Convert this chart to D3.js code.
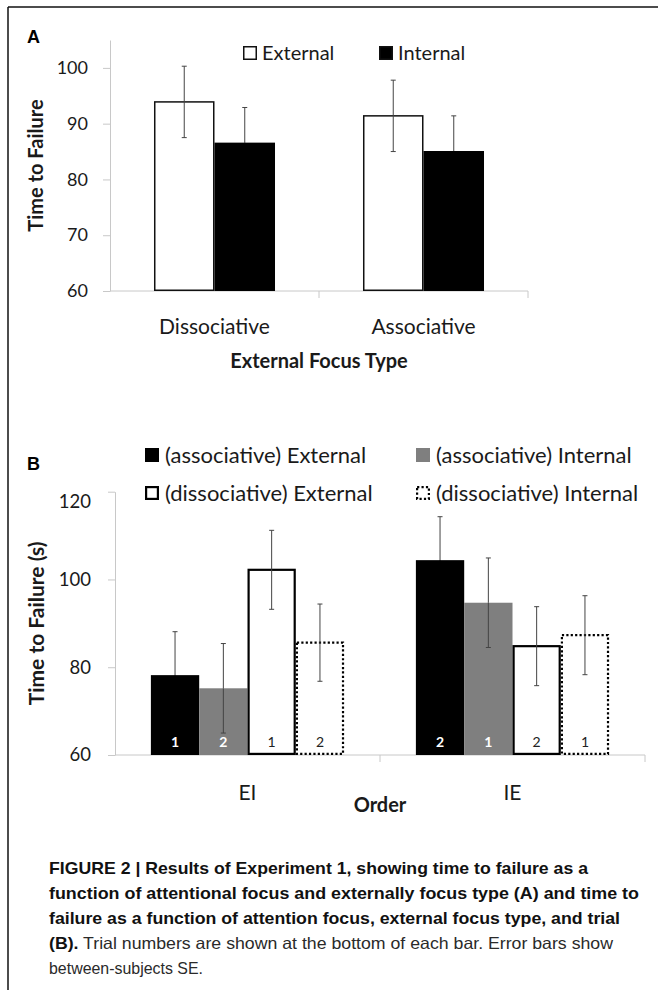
<!DOCTYPE html>
<html>
<head>
<meta charset="utf-8">
<script src="https://cdn.jsdelivr.net/npm/d3@7"></script>
<style>
    body { margin: 0; background: #fff; }
    svg { display: block; }
    .chartText { font-family: Lato, "Open Sans", sans-serif; fill: #1a1a1a; }
    .panelLetter { font-family: "Liberation Sans", Arial, sans-serif; font-weight: bold; font-size: 18px; fill: #000; }
    .caption { font-family: "Liberation Sans", Arial, sans-serif; font-size: 16.5px; fill: #111; }
</style>
</head>
<body>
<script>
(function(){

    // panel A
    var catsA = ["Dissociative", "Associative"];
    var seriesA = ["External", "Internal"];
    var externalA = [93.9, 91.4];
    var externalSeA = [6.4, 6.4];
    var internalA = [86.6, 85.1];
    var internalSeA = [6.3, 6.3];
    var ticksA = [60, 70, 80, 90, 100];

    // panel B
    var catsB = ["EI", "IE"];
    var seriesB = ["(associative) External", "(associative) Internal", "(dissociative) External", "(dissociative) Internal"];
    var assocExtB = [78.2, 104.4];
    var assocExtSeB = [9.9, 9.9];
    var assocIntB = [75.2, 94.7];
    var assocIntSeB = [10.2, 10.2];
    var dissExtB = [102.2, 84.8];
    var dissExtSeB = [9.0, 9.0];
    var dissIntB = [85.6, 87.3];
    var dissIntSeB = [8.8, 9.0];
    var trialsB = [[1, 2], [2, 1], [1, 2], [2, 1]];
    var ticksB = [60, 80, 100, 120];

    var captionLines = [
        [["FIGURE 2 | Results of Experiment 1, showing time to failure as a", true]],
        [["function of attentional focus and externally focus type (A) and time to", true]],
        [["failure as a function of attention focus, external focus type, and trial", true]],
        [["(B).", true], [" Trial numbers are shown at the bottom of each bar. Error bars show", false]],
        [["between-subjects SE.", false]]
    ];
    var captionWidths = [539, 590, 571, 564, 154];

    var width = 658, height = 990;

    var svg = d3.select("body")
        .append("svg")
        .attr("width", width)
        .attr("height", height);

    // frame (top and left edges)
    svg.append("line")
        .attr("x1", 8).attr("y1", 7).attr("x2", width).attr("y2", 7)
        .attr("stroke", "#111").attr("stroke-width", 1.5);
    svg.append("line")
        .attr("x1", 8).attr("y1", 7).attr("x2", 8).attr("y2", height)
        .attr("stroke", "#111").attr("stroke-width", 1.5);

    function buildRows(cats, valueArrays, seArrays, seriesNames){
        var rows = [];
        for (var c=0; c<cats.length; c++){
            for (var s=0; s<seriesNames.length; s++){
                rows.push({cat: cats[c], series: seriesNames[s], si: s, ci: c,
                    value: valueArrays[s][c], se: seArrays[s][c]});
            }
        }
        return rows;
    };

    function drawPanel(cfg){
        var g = svg.append("g");

        var x = d3.scaleBand()
            .domain(cfg.cats)
            .range(cfg.xRange);

        var xs = d3.scaleBand()
            .domain(cfg.series)
            .range([0, x.bandwidth()])
            .paddingOuter(cfg.outerPad);

        var y = d3.scaleLinear()
            .domain(cfg.yDomain)
            .range(cfg.yRange);

        // y axis
        var yAxis = g.append("g")
            .attr("transform", "translate(" + cfg.xRange[0] + ",0)")
            .call(d3.axisLeft(y).tickValues(cfg.ticks).tickSize(7).tickSizeOuter(0).tickPadding(cfg.tickPad));
        yAxis.select(".domain").attr("stroke", "#c8c8c8");
        yAxis.selectAll(".tick line").attr("stroke", "#c8c8c8");
        yAxis.selectAll(".tick text")
            .attr("class", "chartText")
            .style("font-size", "18px");

        // x baseline with between-category ticks
        var base = y(cfg.yDomain[0]);
        g.append("line")
            .attr("x1", cfg.xRange[0]).attr("x2", cfg.xRange[1])
            .attr("y1", base).attr("y2", base)
            .attr("stroke", "#c8c8c8");
        var edges = cfg.cats.map(function(d){ return x(d) + x.bandwidth(); });
        g.selectAll(".xtick")
            .data(edges)
            .enter()
            .append("line")
            .attr("x1", function(d){ return d; })
            .attr("x2", function(d){ return d; })
            .attr("y1", base)
            .attr("y2", base + 7)
            .attr("stroke", "#c8c8c8");

        // bars
        g.selectAll(".bar")
            .data(cfg.rows)
            .enter()
            .append("rect")
            .attr("x", function(d){ return x(d.cat) + xs(d.series) + cfg.styles[d.si].inset; })
            .attr("width", function(d){ return xs.bandwidth() - 2 * cfg.styles[d.si].inset; })
            .attr("y", function(d){ return y(d.value); })
            .attr("height", function(d){ return base - y(d.value) - cfg.styles[d.si].inset; })
            .attr("fill", function(d){ return cfg.styles[d.si].fill; })
            .attr("stroke", function(d){ return cfg.styles[d.si].stroke; })
            .attr("stroke-width", function(d){ return cfg.styles[d.si].sw; })
            .attr("stroke-dasharray", function(d){ return cfg.styles[d.si].dash; });

        // error bars (lower half vanishes inside black bars)
        var err = g.selectAll(".err")
            .data(cfg.rows)
            .enter()
            .append("g")
            .attr("transform", function(d){
                return "translate(" + (x(d.cat) + xs(d.series) + xs.bandwidth() / 2) + ",0)";
            });
        function lowColor(d){ return cfg.styles[d.si].fill === "#000" ? "#000" : "#444"; }
        err.append("line")
            .attr("y1", function(d){ return y(d.value + d.se); })
            .attr("y2", function(d){ return y(d.value); })
            .attr("stroke", "#444");
        err.append("line")
            .attr("y1", function(d){ return y(d.value); })
            .attr("y2", function(d){ return y(d.value - d.se); })
            .attr("stroke", lowColor);
        err.append("line")
            .attr("x1", -2.5).attr("x2", 2.5)
            .attr("y1", function(d){ return y(d.value + d.se); })
            .attr("y2", function(d){ return y(d.value + d.se); })
            .attr("stroke", "#444");
        err.append("line")
            .attr("x1", -2.5).attr("x2", 2.5)
            .attr("y1", function(d){ return y(d.value - d.se); })
            .attr("y2", function(d){ return y(d.value - d.se); })
            .attr("stroke", lowColor);

        // category labels
        g.selectAll(".catLabel")
            .data(cfg.cats)
            .enter()
            .append("text")
            .attr("class", "chartText")
            .attr("x", function(d){ return x(d) + x.bandwidth() / 2; })
            .attr("y", cfg.catY)
            .attr("text-anchor", "middle")
            .style("font-size", "21px")
            .text(function(d){ return d; });

        // axis titles
        g.append("text")
            .attr("class", "chartText")
            .attr("x", cfg.xTitle[0])
            .attr("y", cfg.xTitle[1])
            .attr("text-anchor", "middle")
            .style("font-size", "20px")
            .style("font-weight", "bold")
            .text(cfg.xLabel);

        g.append("text")
            .attr("class", "chartText")
            .attr("transform", "translate(" + cfg.yTitleX + "," + ((cfg.yRange[0] + cfg.yRange[1]) / 2) + ") rotate(-90)")
            .attr("text-anchor", "middle")
            .style("font-size", cfg.yTitleSize)
            .style("font-weight", "bold")
            .text(cfg.yLabel);

        return {x: x, xs: xs, y: y, g: g, yAxis: yAxis};
    };

    // ---------- panel A ----------
    var stylesA = [
        {fill: "#fff", stroke: "#111", sw: 1.5, dash: null, inset: 0.75},
        {fill: "#000", stroke: "none", sw: 0, dash: null, inset: 0}
    ];
    var rowsA = buildRows(catsA, [externalA, internalA], [externalSeA, internalSeA], seriesA);

    drawPanel({
        cats: catsA, series: seriesA, rows: rowsA, styles: stylesA,
        xRange: [110, 528], yRange: [291, 40], yDomain: [60, 105],
        ticks: ticksA, tickPad: 15, outerPad: 0.727,
        catY: 334, xLabel: "External Focus Type", xTitle: [319, 368],
        yLabel: "Time to Failure", yTitleX: 43, yTitleSize: "20px"
    });

    svg.append("text").attr("class", "panelLetter").attr("x", 27).attr("y", 43).text("A");

    // legend A
    var legA = svg.selectAll(".legA")
        .data(seriesA)
        .enter()
        .append("g")
        .attr("transform", function(d, i){ return "translate(" + [243, 379][i] + ",46)"; });
    legA.append("rect")
        .attr("x", 0.75).attr("y", 0.75)
        .attr("width", 12.5).attr("height", 12.5)
        .attr("fill", function(d, i){ return stylesA[i].fill; })
        .attr("stroke", "#111")
        .attr("stroke-width", 1.5);
    legA.append("text")
        .attr("class", "chartText")
        .attr("x", 19)
        .attr("y", 14)
        .style("font-size", "20px")
        .text(function(d){ return d; });

    // ---------- panel B ----------
    var stylesB = [
        {fill: "#000", stroke: "none", sw: 0, dash: null, inset: 0},
        {fill: "#7f7f7f", stroke: "none", sw: 0, dash: null, inset: 0},
        {fill: "#fff", stroke: "#000", sw: 2.2, dash: null, inset: 1.1},
        {fill: "#fff", stroke: "#000", sw: 2.2, dash: "2.2,2.2", inset: 1.1}
    ];
    var rowsB = buildRows(catsB, [assocExtB, assocIntB, dissExtB, dissIntB],
        [assocExtSeB, assocIntSeB, dissExtSeB, dissIntSeB], seriesB);
    rowsB.forEach(function(d){ d.trial = trialsB[d.si][d.ci]; });

    var pB = drawPanel({
        cats: catsB, series: seriesB, rows: rowsB, styles: stylesB,
        xRange: [115, 645], yRange: [755, 491.7], yDomain: [60, 120],
        ticks: ticksB, tickPad: 17, outerPad: 0.743,
        catY: 800, xLabel: "Order", xTitle: [380, 812],
        yLabel: "Time to Failure (s)", yTitleX: 44, yTitleSize: "21px"
    });
    pB.yAxis.selectAll(".tick text")
        .style("font-size", "18.5px")
        .attr("dy", function(d){ return d === 120 ? "0.85em" : "0.32em"; });

    // trial numbers at the bottom of the bars
    pB.g.selectAll(".trial")
        .data(rowsB)
        .enter()
        .append("text")
        .attr("class", "chartText")
        .attr("x", function(d){ return pB.x(d.cat) + pB.xs(d.series) + pB.xs.bandwidth() / 2; })
        .attr("y", 747)
        .attr("text-anchor", "middle")
        .style("font-size", "14px")
        .style("font-weight", function(d){ return d.si < 2 ? "bold" : "normal"; })
        .style("fill", function(d){ return d.si < 2 ? "#fff" : "#222"; })
        .text(function(d){ return d.trial; });

    svg.append("text").attr("class", "panelLetter").attr("x", 27).attr("y", 470).text("B");

    // legend B
    var legB = svg.selectAll(".legB")
        .data(seriesB)
        .enter()
        .append("g")
        .attr("transform", function(d, i){
            return "translate(" + (i % 2 === 0 ? 145 : 416) + "," + (i < 2 ? 448 : 486) + ")";
        });
    legB.append("rect")
        .attr("x", function(d, i){ return stylesB[i].inset; })
        .attr("y", function(d, i){ return stylesB[i].inset; })
        .attr("width", function(d, i){ return 14 - 2 * stylesB[i].inset; })
        .attr("height", function(d, i){ return 14 - 2 * stylesB[i].inset; })
        .attr("fill", function(d, i){ return stylesB[i].fill; })
        .attr("stroke", function(d, i){ return stylesB[i].stroke; })
        .attr("stroke-width", function(d, i){ return stylesB[i].sw; })
        .attr("stroke-dasharray", function(d, i){ return stylesB[i].dash; });
    legB.append("text")
        .attr("class", "chartText")
        .attr("x", 20)
        .attr("y", 15)
        .style("font-size", "22px")
        .text(function(d){ return d; });

    // ---------- caption ----------
    var cap = svg.selectAll(".capLine")
        .data(captionLines)
        .enter()
        .append("text")
        .attr("class", "caption")
        .attr("x", 49)
        .attr("y", function(d, i){ return 874 + i * 25; })
        .attr("textLength", function(d, i){ return captionWidths[i]; })
        .attr("lengthAdjust", "spacingAndGlyphs");
    cap.selectAll("tspan")
        .data(function(d){ return d; })
        .enter()
        .append("tspan")
        .style("font-weight", function(d){ return d[1] ? "bold" : "normal"; })
        .style("fill", function(d){ return d[1] ? "#111" : "#2a2a2a"; })
        .text(function(d){ return d[0]; });

})();
</script>
</body>
</html>
